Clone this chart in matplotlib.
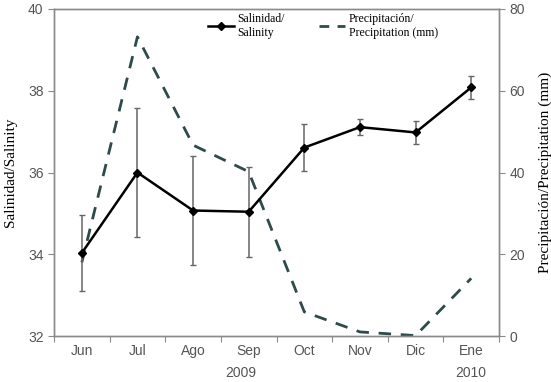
import matplotlib
matplotlib.use("Agg")
import matplotlib.pyplot as plt
from matplotlib.lines import Line2D
import numpy as np

months = ["Jun", "Jul", "Ago", "Sep", "Oct", "Nov", "Dic", "Ene"]
salinity = [34.03, 36.0, 35.07, 35.04, 36.61, 37.11, 36.98, 38.08]
salinity_err = [0.93, 1.57, 1.33, 1.10, 0.57, 0.20, 0.28, 0.27]
precip = [18.0, 73.2, 46.7, 40.2, 5.9, 1.0, 0.1, 14.1]
years = [("2009", 3.35), ("2010", 7.5)]

serif = ["Liberation Serif", "DejaVu Serif"]
sans = ["Liberation Sans", "DejaVu Sans"]
spine_c = "#8a8a8a"
tick_c = "#555555"
dash_c = "#2f4a4a"

fig = plt.figure(figsize=(5.51, 3.82), dpi=100)
ax = fig.add_axes([54/551, 1-336/382, 445/551, 327/382])
ax2 = ax.twinx()

x = np.arange(len(months)) + 0.5

ax2.plot(x, precip, ls=(0, (4.5, 3.5)), color=dash_c, lw=2.0, zorder=2)
ax.errorbar(x, salinity, yerr=salinity_err, color="black", lw=1.8,
            marker="D", ms=4.5, ecolor="#666666", elinewidth=1.1,
            capsize=2.5, capthick=1.0, zorder=3)
ax.set_zorder(ax2.get_zorder() + 1)
ax.patch.set_visible(False)

ax.set_xlim(0, 8)
ax.set_ylim(32, 40)
ax2.set_ylim(0, 80)
ax.set_yticks([32, 34, 36, 38, 40])
ax2.set_yticks([0, 20, 40, 60, 80])
ax.set_xticks(np.arange(0, 9))
ax.set_xticklabels([])
ax.set_xticks(x, minor=True)
ax.set_xticklabels(months, minor=True)
ax.tick_params(axis="x", which="minor", length=0, pad=6)
ax.tick_params(axis="x", which="major", length=4, color=spine_c)

for a in (ax, ax2):
    for s in a.spines.values():
        s.set_color(spine_c)
        s.set_linewidth(1.0)
    a.tick_params(axis="y", length=4, color=spine_c, labelcolor=tick_c, labelsize=10)
ax.tick_params(axis="x", which="minor", labelcolor=tick_c, labelsize=10)
for lab in ax.get_yticklabels() + ax2.get_yticklabels() + ax.get_xticklabels(minor=True):
    lab.set_family(sans)

for yr, xp in years:
    ax.text(xp, -0.112, yr, transform=ax.get_xaxis_transform(), ha="center",
            va="center", fontsize=10, color=tick_c, family=sans)

ax.set_ylabel("Salinidad/Salinity", family=serif, fontsize=11, labelpad=8)
ax2.set_ylabel("Precipitación/Precipitation (mm)", family=serif, fontsize=11, labelpad=10)

h1 = Line2D([], [], color="black", lw=1.8, marker="D", ms=4.5)
h2 = Line2D([], [], color=dash_c, lw=2.0, ls=(0, (3.5, 3)))
ax.legend([h1, h2], ["Salinidad/\nSalinity", "Precipitación/\nPrecipitation (mm)"],
          ncol=2, loc="upper left", bbox_to_anchor=(0.322, 1.02),
          frameon=False, prop={"family": serif, "size": 8.5}, handlelength=2.2,
          columnspacing=2.9, handletextpad=0.3, labelspacing=0.3)

fig.savefig("out.png", dpi=100)
